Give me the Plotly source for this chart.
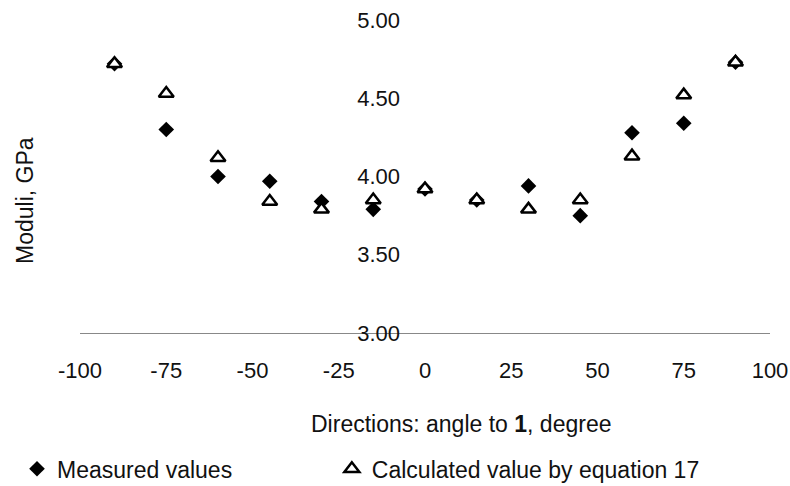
import plotly.graph_objects as go

angles = [-90, -75, -60, -45, -30, -15, 0, 15, 30, 45, 60, 75, 90]
measured = [4.72, 4.30, 4.00, 3.97, 3.84, 3.79, 3.92, 3.85, 3.94, 3.75, 4.28, 4.34, 4.73]
calculated = [4.72, 4.53, 4.12, 3.84, 3.79, 3.85, 3.92, 3.85, 3.79, 3.85, 4.13, 4.52, 4.73]
x_ticks = [-100, -75, -50, -25, 0, 25, 50, 75, 100]
y_ticks = [3.0, 3.5, 4.0, 4.5, 5.0]

FONT = "Liberation Sans, Arial, sans-serif"

fig = go.Figure()
fig.add_trace(go.Scatter(
    x=angles, y=measured, mode="markers", name="Measured values",
    marker=dict(symbol="diamond", size=12, color="black", line=dict(width=0)),
    legend="legend",
))
fig.add_trace(go.Scatter(
    x=angles, y=calculated, mode="markers", name="Calculated value by equation 17",
    marker=dict(symbol="triangle-up", size=13, color="white",
                line=dict(width=2.5, color="black")),
    legend="legend2",
))

fig.update_layout(
    width=790, height=486,
    margin=dict(l=80, r=20, t=20, b=153, autoexpand=False),
    paper_bgcolor="white", plot_bgcolor="white",
    font=dict(family=FONT, size=22, color="#111"),
    xaxis=dict(
        range=[-100, 100], tickvals=x_ticks, ticktext=[str(v) for v in x_ticks],
        showgrid=False, zeroline=False, showline=True, linecolor="#888", linewidth=1,
        ticks="", ticklabelstandoff=18, tickfont=dict(size=22),
    ),
    yaxis=dict(
        range=[3, 5], tickvals=y_ticks, tickformat=".2f",
        showgrid=False, zeroline=False, showline=False,
        anchor="free", position=0.5, side="left",
        ticks="", ticklabelstandoff=25, tickfont=dict(size=22),
    ),
    showlegend=True,
    legend=dict(
        orientation="h", x=-0.0913, xanchor="left", y=-0.434, yanchor="middle",
        font=dict(size=23), bgcolor="rgba(0,0,0,0)",
    ),
    legend2=dict(
        orientation="h", x=0.365, xanchor="left", y=-0.434, yanchor="middle",
        font=dict(size=23), bgcolor="rgba(0,0,0,0)",
    ),
    annotations=[
        dict(text="Directions: angle to <b>1</b>, degree", xref="paper", yref="paper",
             x=0.552, y=-0.291, xanchor="center", yanchor="middle", showarrow=False,
             font=dict(size=23)),
        dict(text="Moduli, GPa", xref="paper", yref="paper",
             x=-0.0797, y=0.422, xanchor="center", yanchor="middle", showarrow=False,
             textangle=-90, font=dict(size=23)),
    ],
)

fig.write_html("out.html")
